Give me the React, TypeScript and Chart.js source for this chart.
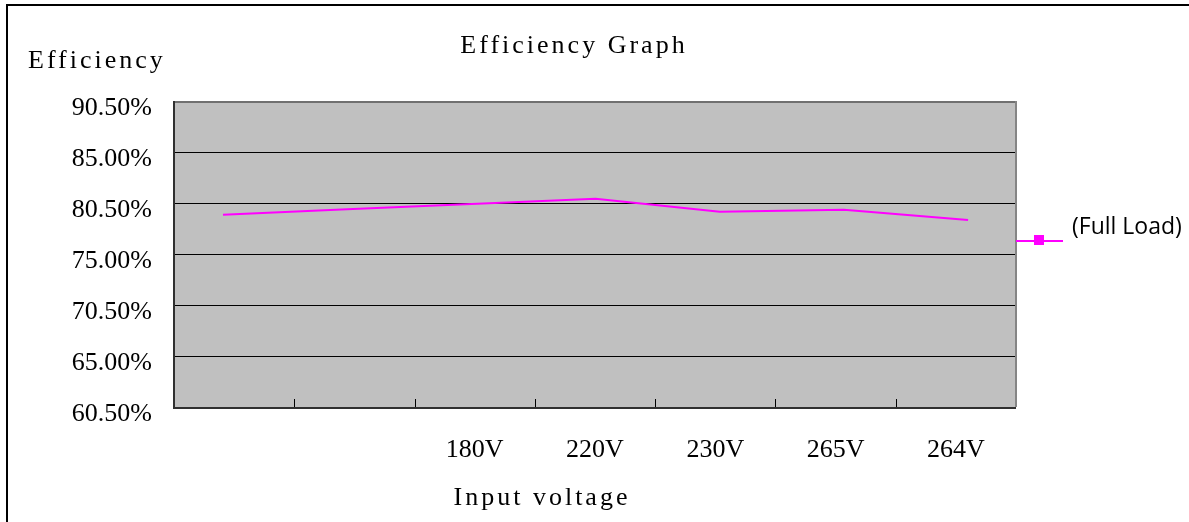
import React, { useEffect, useRef } from 'react';
import { Chart, registerables } from 'chart.js';

Chart.register(...registerables);

const xLabels = ['', '', '180V', '220V', '230V', '265V', '264V'];
const pointIndex = [0, 1, 2, 3, 4, 5, 6];
const fullLoad = [79.35, 79.88, 80.4, 80.92, 79.65, 79.84, 78.83];
const yTickLabels = ['60.50%', '65.00%', '70.50%', '75.00%', '80.50%', '85.00%', '90.50%'];
const seriesName = '(Full Load)';
const chartTitle = 'Efficiency Graph';
const yTitle = 'Efficiency';
const xTitle = 'Input voltage';

const SERIF = '"Liberation Serif", "Times New Roman", serif';

const decor = {
  id: 'decor',
  beforeDraw(chart: any) {
    const { ctx, chartArea: a } = chart;
    ctx.save();
    ctx.fillStyle = '#ffffff';
    ctx.fillRect(0, 0, chart.width, chart.height);
    ctx.fillStyle = '#C0C0C0';
    ctx.fillRect(a.left, a.top, a.right - a.left, a.bottom - a.top);
    ctx.restore();
  },
  beforeDatasetsDraw(chart: any) {
    const { ctx, chartArea: a } = chart;
    const xs = chart.scales.x;
    ctx.save();
    ctx.fillStyle = '#707070';
    ctx.fillRect(a.left, a.top, a.right - a.left, 2);
    ctx.fillStyle = '#858585';
    ctx.fillRect(a.right - 1, a.top, 2, a.bottom - a.top);
    ctx.fillStyle = '#303030';
    ctx.fillRect(a.left - 1, a.top, 2, a.bottom - a.top + 2);
    ctx.fillRect(a.left - 1, a.bottom, a.right - a.left + 1, 2);
    ctx.strokeStyle = '#000';
    ctx.lineWidth = 1;
    for (let i = 1; i < xLabels.length; i++) {
      const px = Math.round((xs.getPixelForValue(i - 1) + xs.getPixelForValue(i)) / 2) + 0.5;
      ctx.beginPath();
      ctx.moveTo(px, a.bottom);
      ctx.lineTo(px, a.bottom - 8);
      ctx.stroke();
    }
    ctx.restore();
  },
  afterDraw(chart: any) {
    const ctx = chart.ctx;
    ctx.save();
    ctx.fillStyle = '#000';
    ctx.fillRect(6, 4, chart.width - 6, 2);
    ctx.fillRect(6, 4, 2, chart.height - 4);
    ctx.font = '26px ' + SERIF;
    ctx.textBaseline = 'alphabetic';
    (ctx as any).letterSpacing = '3px';
    ctx.textAlign = 'left';
    ctx.fillText(yTitle, 28, 68);
    ctx.textAlign = 'center';
    ctx.fillText(chartTitle, 574, 53);
    ctx.fillText(xTitle, 542, 505);
    (ctx as any).letterSpacing = '0px';
    const ds = chart.data.datasets[0];
    ctx.strokeStyle = ds.borderColor;
    ctx.lineWidth = 2;
    ctx.beginPath();
    ctx.moveTo(1016, 241);
    ctx.lineTo(1063, 241);
    ctx.stroke();
    ctx.fillStyle = ds.borderColor;
    ctx.fillRect(1034, 235, 10, 10);
    ctx.fillStyle = '#000';
    ctx.font = '23px "Open Sans", sans-serif';
    ctx.textAlign = 'left';
    ctx.fillText(ds.label, 1072, 234);
    ctx.restore();
  },
};

export default function App() {
  const ref = useRef<HTMLCanvasElement | null>(null);
  useEffect(() => {
    if (!ref.current) return;
    const chart = new Chart(ref.current, {
      type: 'line',
      data: {
        labels: xLabels,
        datasets: [
          {
            label: seriesName,
            data: pointIndex.map((x, i) => ({ x, y: fullLoad[i] })),
            xAxisID: 'x2',
            yAxisID: 'y',
            borderColor: '#FF00FF',
            backgroundColor: '#FF00FF',
            borderWidth: 2,
            pointRadius: 0,
            tension: 0,
            fill: false,
          },
        ],
      },
      options: {
        responsive: false,
        animation: false,
        devicePixelRatio: 1,
        layout: { padding: { left: 0, top: 101, right: 173, bottom: 0 } },
        plugins: { legend: { display: false }, title: { display: false }, tooltip: { enabled: false } },
        scales: {
          x: {
            type: 'category',
            labels: xLabels,
            min: 0,
            max: 6,
            offset: true,
            grid: { display: false },
            border: { display: false },
            ticks: {
              color: '#000',
              padding: 20,
              maxRotation: 0,
              autoSkip: false,
              font: { family: SERIF, size: 26, lineHeight: 1.2 },
            },
            afterFit: (s: any) => {
              s.height = 115;
            },
          },
          x2: {
            type: 'linear',
            display: false,
            min: -0.3946,
            max: 6.386,
          },
          y: {
            type: 'linear',
            min: 60.5,
            max: 90.5,
            border: { display: false },
            grid: {
              drawTicks: false,
              lineWidth: 1,
              color: (c: any) => (c.index === 0 ? '#303030' : c.index === 6 ? '#707070' : '#000000'),
            },
            ticks: {
              stepSize: 5,
              padding: 22,
              color: '#000',
              font: { family: SERIF, size: 26, lineHeight: 0.58 },
              callback: (_v: any, i: number) => ['', yTickLabels[i]],
            },
            afterFit: (s: any) => {
              s.width = 174;
            },
          },
        },
      },
      plugins: [decor],
    });
    return () => chart.destroy();
  }, []);
  return (
    <div style={{ position: 'absolute', left: 0, top: 0, width: 1189, height: 522, background: '#fff' }}>
      <canvas ref={ref} width={1189} height={522} />
    </div>
  );
}
